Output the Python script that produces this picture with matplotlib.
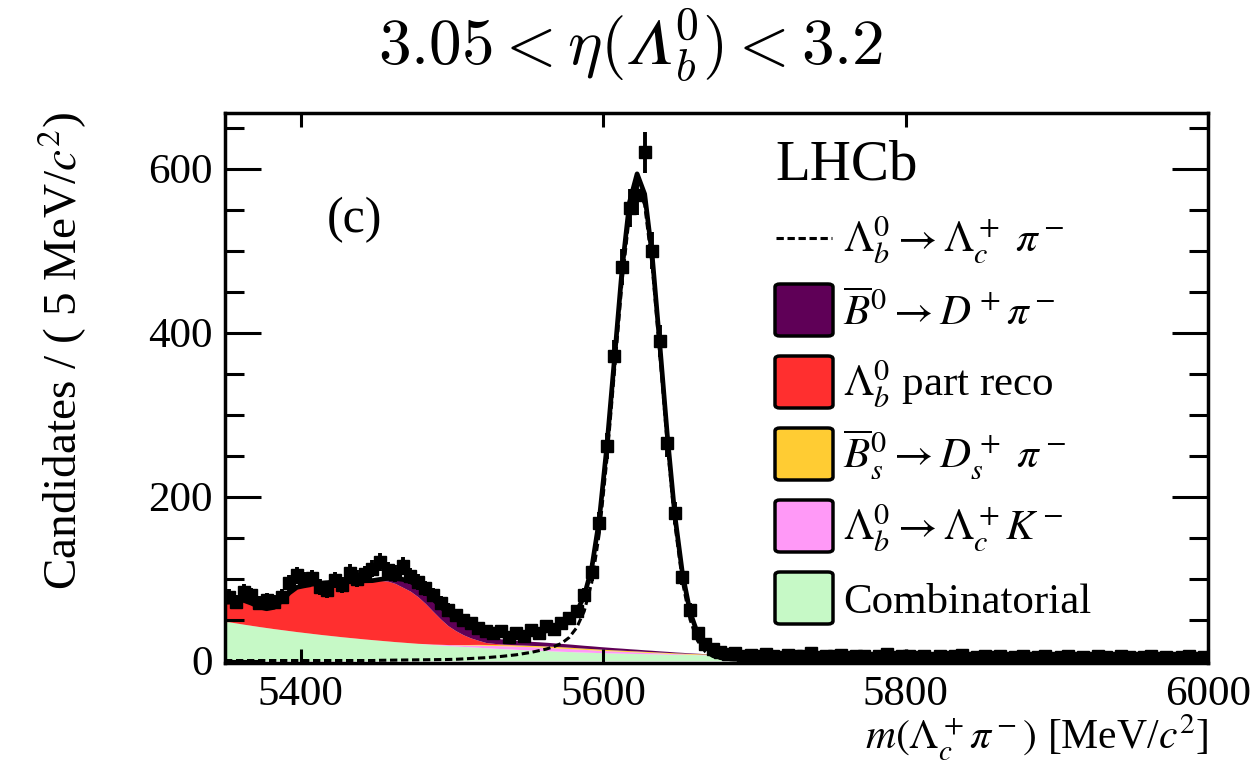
import matplotlib
matplotlib.use('Agg')
import matplotlib.pyplot as plt
import numpy as np
from matplotlib.patches import FancyBboxPatch
from matplotlib.lines import Line2D

plt.rcParams['font.family'] = ['Liberation Serif', 'DejaVu Serif']
plt.rcParams['mathtext.fontset'] = 'stix'

# 5 MeV bins between 5350 and 6000
bin_width = 5.0
mass = np.arange(5352.5, 6000.0, bin_width)

# observed candidates per bin
data = [78, 72, 84, 80, 70, 74, 72, 78, 95, 104,
        98, 101, 90, 86, 98, 92, 107, 100, 105, 112,
        120, 110, 106, 115, 103, 96, 88, 80, 70, 62,
        55, 50, 46, 40, 36, 33, 36, 29, 34, 30,
        37, 33, 42, 38, 46, 52, 60, 80, 108, 168,
        262, 372, 480, 552, 568, 620, 500, 390, 265, 180,
        102, 62, 34, 20, 14, 10, 8, 9, 6, 7,
        5, 8, 6, 4, 7, 5, 6, 9, 4, 6,
        5, 7, 4, 5, 6, 3, 5, 8, 4, 5,
        6, 4, 5, 3, 6, 4, 5, 7, 3, 4,
        5, 4, 6, 3, 4, 5, 3, 4, 6, 3,
        4, 5, 3, 4, 3, 5, 4, 3, 6, 4,
        3, 4, 5, 3, 4, 3, 4, 5, 3, 4]

# fit components (each listed from its first non-zero bin)
comb = [47.3, 45.8, 44.3, 42.9, 41.5, 40.2, 38.9, 37.7, 36.5, 35.3,
        34.2, 33.1, 32.0, 31.0, 30.0, 29.0, 28.1, 27.2, 26.3, 25.5,
        24.7, 23.9, 23.1, 22.4, 21.7, 21.0, 20.3, 19.6, 19.0, 18.4,
        17.8, 17.2, 16.7, 16.2, 15.6, 15.1, 14.6, 14.2, 13.7, 13.3,
        12.9, 12.5, 12.1, 11.7, 11.3, 11.0, 10.6, 10.3, 10.0, 9.7,
        9.4, 9.2, 9.0, 8.8, 8.6, 8.4, 8.2, 8.0, 7.8, 7.6,
        7.5, 7.3, 7.2, 7.0, 6.9, 6.8, 6.6, 6.5, 6.4, 6.3,
        6.2, 6.1, 6.0, 5.9, 5.8, 5.7, 5.6, 5.5, 5.4, 5.3,
        5.2, 5.2, 5.1, 5.0, 5.0, 4.9, 4.8, 4.8, 4.7, 4.7,
        4.6, 4.6, 4.5, 4.5, 4.4, 4.4, 4.3, 4.3, 4.2, 4.2,
        4.2, 4.1, 4.1, 4.1, 4.0, 4.0, 4.0, 3.9, 3.9, 3.9,
        3.9, 3.8, 3.8, 3.8, 3.8, 3.7, 3.7, 3.7, 3.7, 3.6,
        3.6, 3.6, 3.6, 3.6, 3.5, 3.5, 3.5, 3.5, 3.5, 3.4]

lbk_start = 5482.5
lbk = [0.3, 0.5, 0.8, 1.1, 1.5, 1.9, 2.3, 2.7, 3.0, 3.3,
       3.5, 3.7, 3.8, 3.9, 4.0, 4.0, 4.0, 3.9, 3.8, 3.7,
       3.5, 3.3, 3.1, 2.9, 2.7, 2.5, 2.3, 2.1, 1.9, 1.7,
       1.5, 1.3, 1.1, 0.9, 0.7, 0.5, 0.4, 0.3, 0.1]

bs_start = 5502.5
bs = [0.2, 0.4, 0.6, 0.8, 1.0, 1.2, 1.3, 1.4, 1.5, 1.6,
      1.6, 1.7, 1.7, 1.7, 1.7, 1.6, 1.6, 1.5, 1.5, 1.4,
      1.4, 1.3, 1.3, 1.2, 1.2, 1.1, 1.1, 1.0, 1.0, 0.9,
      0.9, 0.8, 0.8, 0.7, 0.6]

partreco_start = 5352.5
partreco = [24, 27, 29, 27, 24, 23, 26, 35, 46, 54,
            57, 60, 62, 64, 66, 67, 68, 69, 71, 72,
            73, 73, 71, 67, 63, 57, 49, 40, 31, 23,
            17, 12, 8, 5, 2.4, 1.4, 0.8, 0.4, 0.2, 0.1]

bd_start = 5452.5
bd = [1, 3, 6, 9, 11, 12.5, 13.5, 14, 14, 13.5,
      13, 12, 11, 9.5, 8, 7, 6.3, 5.8, 5.4, 5.1,
      4.9, 4.7, 4.5, 4.3, 4.1, 3.9, 3.7, 3.5, 3.3, 3.1,
      2.9, 2.7, 2.5, 2.3, 2.1, 1.9, 1.7, 1.5, 1.3, 1.1,
      0.9, 0.7, 0.5, 0.4, 0.2, 0.1, 0.05]

sig_start = 5452.5
sig = [0.3, 0.4, 0.5, 0.6, 0.7, 0.8, 0.9, 1.0, 1.2, 1.3,
       1.5, 2, 2.5, 3, 3.5, 4.2, 5, 6, 7, 8.5,
       10, 12, 14, 17, 21, 28, 40, 60, 95, 155,
       245, 352, 461, 545, 580, 556, 481, 374, 263, 166,
       96, 50, 24, 11, 5, 2.5, 1.2, 0.6, 0.3, 0.1]


def on_grid(start, values):
    arr = np.zeros(len(mass))
    i0 = int(round((start - mass[0]) / bin_width))
    arr[i0:i0 + len(values)] = values
    return arr


def padded(y):
    # carry the edge bins out to the frame
    return np.r_[y[0], y, y[-1]]


comb = np.array(comb)
lbk = on_grid(lbk_start, lbk)
bs = on_grid(bs_start, bs)
partreco = on_grid(partreco_start, partreco)
bd = on_grid(bd_start, bd)
sig = on_grid(sig_start, sig)
data = np.array(data, dtype=float)

s1 = comb
s2 = s1 + lbk
s3 = s2 + bs
s4 = s3 + partreco
s5 = s4 + bd
total = s5 + sig

col_bd = '#5f0057'
col_pr = '#ff2f2f'
col_bs = '#ffcc33'
col_lbk = '#ff99f7'
col_comb = '#c6f9c6'

W, H = 1250, 761
fig = plt.figure(figsize=(W / 100, H / 100), dpi=100)
ax = fig.add_axes([225 / W, 1 - 663 / H, 983 / W, 550 / H])

mx = np.r_[5350.0, mass, 6000.0]
ax.fill_between(mx, 0, padded(s1), color=col_comb, lw=0)
ax.fill_between(mx, padded(s1), padded(s2), color=col_lbk, lw=0)
ax.fill_between(mx, padded(s2), padded(s3), color=col_bs, lw=0)
ax.fill_between(mx, padded(s3), padded(s4), color=col_pr, lw=0)
ax.fill_between(mx, padded(s4), padded(s5), color=col_bd, lw=0)

ax.plot(mx, padded(sig), color='k', lw=2.2, dashes=(2.4, 1.2), zorder=3)
ax.plot(mx, padded(total), color='k', lw=3.4, zorder=4)
ax.errorbar(mass, data, yerr=np.sqrt(data), xerr=bin_width / 2, fmt='s',
            color='k', ms=8.5, elinewidth=2.8, capsize=0, zorder=5)

ax.set_xlim(5350, 6000)
ax.set_ylim(-3, 668)
ax.set_xticks([5400, 5600, 5800, 6000])
ax.set_yticks([0, 200, 400, 600])
ax.set_yticks(np.arange(0, 668, 50), minor=True)
ax.tick_params(which='both', direction='in', top=True, right=True,
               width=2.2, labelsize=31)
ax.tick_params(axis='x', which='major', length=10, pad=9)
ax.tick_params(axis='y', which='major', length=26, pad=9)
ax.tick_params(axis='y', which='minor', length=13.5)
for sp in ax.spines.values():
    sp.set_linewidth(2.5)
    sp.set_zorder(6)

fig.text(62 / W, 1 - 351 / H, r'Candidates / ( 5 MeV/$c^2$)',
         rotation=90, ha='center', va='center', fontsize=34)
fig.text(1208 / W, 1 - 738 / H, r'$m(\Lambda_c^+\pi^-)$ [MeV/$c^2$]',
         ha='right', va='center', fontsize=30)
fig.text(631 / W, 1 - 46 / H,
         r'$3.05 < \eta($' + '$\U0001D6EC$' + r'$_b^0) < 3.2$',
         ha='center', va='center', fontsize=47, math_fontfamily='cm')
fig.text(775 / W, 1 - 180 / H, 'LHCb', ha='left', va='baseline', fontsize=41)
fig.text(355 / W, 1 - 220 / H, '(c)', ha='center', va='center', fontsize=36)

# legend
rows = [
    (None, r'$\Lambda_b^0 \rightarrow \Lambda_c^+\ \pi^-$', 238),
    (col_bd, r'$\overline{B}^0 \rightarrow D^+\pi^-$', 310),
    (col_pr, r'$\Lambda_b^0$ part reco', 382),
    (col_bs, r'$\overline{B}_s^0 \rightarrow D_s^+\ \pi^-$', 454),
    (col_lbk, r'$\Lambda_b^0 \rightarrow \Lambda_c^+ K^-$', 526),
    (col_comb, 'Combinatorial', 598),
]
for colour, label, yc in rows:
    if colour is None:
        fig.add_artist(Line2D([776 / W, 832 / W], [1 - yc / H, 1 - yc / H],
                              color='k', lw=2.2, dashes=(2.4, 1.2)))
    else:
        box = FancyBboxPatch((775 / W, 1 - (yc + 26) / H), 58 / W, 52 / H,
                             boxstyle='round,pad=0,rounding_size=0.004',
                             transform=fig.transFigure, facecolor=colour,
                             edgecolor='k', lw=2.5)
        fig.add_artist(box)
    fig.text(843 / W, 1 - (yc + 15) / H, label, ha='left', va='baseline',
             fontsize=31)

fig.savefig('out.png', dpi=100)
